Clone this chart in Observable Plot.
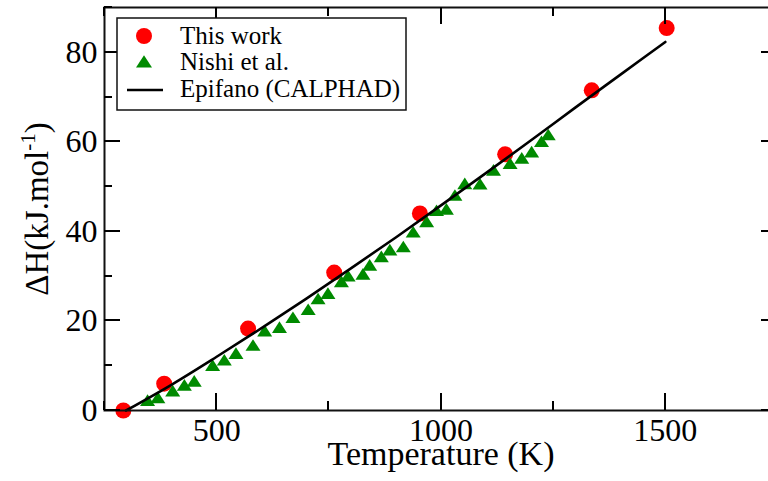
<!DOCTYPE html>
<html>
<head>
<meta charset="utf-8">
<script src="https://cdn.jsdelivr.net/npm/d3@7"></script>
<script src="https://cdn.jsdelivr.net/npm/@observablehq/plot@0.6"></script>
<style>
  html, body { margin: 0; padding: 0; background: #fff; overflow: hidden; }
</style>
</head>
<body>
<div id="chart"></div>
<script>
// ---- Data ----
const thisWorkT = [292, 383, 570, 762, 953, 1143, 1336, 1503];
const thisWorkH = [0.0, 6.0, 18.3, 30.8, 44.0, 57.2, 71.5, 85.4];

const nishiT = [346, 369, 402, 428, 450, 491, 517, 543, 581, 607, 640, 670, 704, 726, 748, 778, 793, 826, 841, 867, 886, 916, 938, 968, 990, 1012, 1031, 1053, 1087, 1117, 1154, 1180, 1202, 1224, 1239];
const nishiH = [2.2, 2.8, 4.3, 5.6, 6.5, 10.0, 11.2, 12.7, 14.5, 17.7, 18.5, 20.7, 22.5, 24.9, 26.1, 28.7, 30.0, 30.4, 32.4, 34.3, 35.8, 36.5, 39.8, 42.1, 44.6, 44.9, 48.0, 50.6, 50.5, 53.6, 55.1, 56.3, 57.7, 60.0, 61.5];

const calphadT = [298, 400, 500, 600, 700, 800, 900, 1000, 1100, 1200, 1300, 1400, 1500];
const calphadH = [0.0, 5.8, 12.0, 18.4, 25.0, 31.8, 38.7, 45.8, 53.0, 60.3, 67.7, 75.0, 82.3];

const xMajorTicks = [500, 1000, 1500];
const xMinorTicks = [250, 750, 1250, 1750];
const yMajorTicks = [0, 20, 40, 60, 80];
const yMinorTicks = [10, 30, 50, 70, 90];

const xTitle = "Temperature (K)";
const yTitleMain = "ΔH(kJ.mol";
const yTitleSup = "-1";
const yTitleEnd = ")";
const legendLabels = ["This work", "Nishi et al.", "Epifano (CALPHAD)"];

// ---- Tables ----
const thisWork = thisWorkT.map((t, i) => ({T: t, H: thisWorkH[i]}));
const nishi = nishiT.map((t, i) => ({T: t, H: nishiH[i]}));
const calphad = calphadT.map((t, i) => ({T: t, H: calphadH[i]}));

const RED = "#ff0000", GREEN = "#008a00", INK = "#111";
const FONT = "'Liberation Serif', 'Times New Roman', serif";

// layout
const W = 768, HT = 481, ML = 104, MR = -9, MT = 7, MB = 71;
const LEFT = ML, RIGHT = W - MR, TOP = MT, BOTTOM = HT - MB;
const MAJ = 17, MIN = 9, YMAJ = 16, YMIN = 8;

// flat triangle symbol (wider than tall)
const flatTriangle = {
  draw(ctx, size) {
    const r = Math.sqrt(size / Math.PI);
    ctx.moveTo(0, -0.85 * r);
    ctx.lineTo(r, 0.7 * r);
    ctx.lineTo(-r, 0.7 * r);
    ctx.closePath();
  }
};

const plot = Plot.plot({
  width: W,
  height: HT,
  marginLeft: ML,
  marginRight: MR,
  marginTop: MT,
  marginBottom: MB,
  style: {fontFamily: FONT, fontSize: "32px", background: "#fff", color: "#000"},
  x: {domain: [250, 1750]},
  y: {domain: [0, 90]},
  marks: [
    Plot.dot(thisWork, {x: "T", y: "H", r: 8, fill: RED, stroke: null}),
    Plot.dot(nishi, {x: "T", y: "H", r: 7.5, symbol: flatTriangle, fill: GREEN, stroke: null}),
    Plot.line(calphad, {x: "T", y: "H", stroke: "#000", strokeWidth: 2.6, curve: "monotone-x"}),

    // tick labels
    Plot.axisX(xMajorTicks, {anchor: "bottom", tickSize: 0, tickPadding: 8, label: null, fontSize: 32, fill: "#000", tickFormat: d => String(d)}),
    Plot.axisY(yMajorTicks, {anchor: "left", tickSize: 0, tickPadding: 7, label: null, fontSize: 32, fill: "#000", tickFormat: d => String(d)}),

    Plot.frame({stroke: INK, strokeWidth: 2}),

    // axis titles
    Plot.text([xTitle], {text: d => d, frameAnchor: "bottom", textAnchor: "middle", dy: 54, fontSize: 34, fill: "#000"}),
    Plot.text([yTitleMain + yTitleSup + yTitleEnd], {text: d => d, frameAnchor: "left", textAnchor: "middle", rotate: -90, dx: -67, fontSize: 33, fill: "#000", className: "ytitle"})
  ]
});

document.getElementById("chart").appendChild(plot);
const svg = d3.select(plot);

// inward ticks on all four sides, positioned with the plot's own scales
const xs = plot.scale("x"), ys = plot.scale("y");
const gt = svg.append("g").attr("class", "inward-ticks");
function tickLine(x1, y1, x2, y2) {
  gt.append("path")
    .attr("d", `M${x1},${y1}L${x2},${y2}`)
    .attr("stroke", "#000")
    .attr("stroke-width", 2)
    .attr("fill", "none");
}
function xTicks(vals, len) {
  vals.forEach(v => {
    const px = Math.round(xs.apply(v));
    tickLine(px, BOTTOM, px, BOTTOM - len);
    tickLine(px, TOP, px, TOP + len);
  });
}
function yTicks(vals, len) {
  vals.forEach(v => {
    const py = Math.round(ys.apply(v));
    tickLine(LEFT, py, LEFT + len, py);
    tickLine(RIGHT, py, RIGHT - len, py);
  });
}
xTicks(xMajorTicks, MAJ);
xTicks(xMinorTicks, MIN);
yTicks(yMajorTicks, YMAJ);
yTicks(yMinorTicks, YMIN);

// superscript in y title
svg.selectAll(".ytitle text").each(function() {
  const t = d3.select(this);
  t.text(null);
  t.append("tspan").text(yTitleMain);
  t.append("tspan").attr("font-size", 21).attr("dy", -13).text(yTitleSup);
  t.append("tspan").attr("dy", 13).text(yTitleEnd);
});

// legend
const lg = svg.append("g").attr("font-family", FONT).attr("font-size", 25).attr("text-anchor", "start");
lg.append("rect").attr("x", 117).attr("y", 18).attr("width", 289).attr("height", 92)
  .attr("fill", "#fff").attr("stroke", INK).attr("stroke-width", 1.5);
lg.append("circle").attr("cx", 144).attr("cy", 36).attr("r", 8).attr("fill", RED);
lg.append("path").attr("transform", "translate(144,62)")
  .attr("d", d3.symbol(flatTriangle, Math.PI * 8 * 8)()).attr("fill", GREEN);
lg.append("line").attr("x1", 127).attr("x2", 163).attr("y1", 90).attr("y2", 90)
  .attr("stroke", "#000").attr("stroke-width", 2.6);
const baselines = [44, 70, 97];
legendLabels.forEach((s, i) => {
  lg.append("text").attr("x", 180).attr("y", baselines[i]).attr("fill", "#000")
    .attr("text-anchor", "start").text(s);
});
</script>
</body>
</html>
